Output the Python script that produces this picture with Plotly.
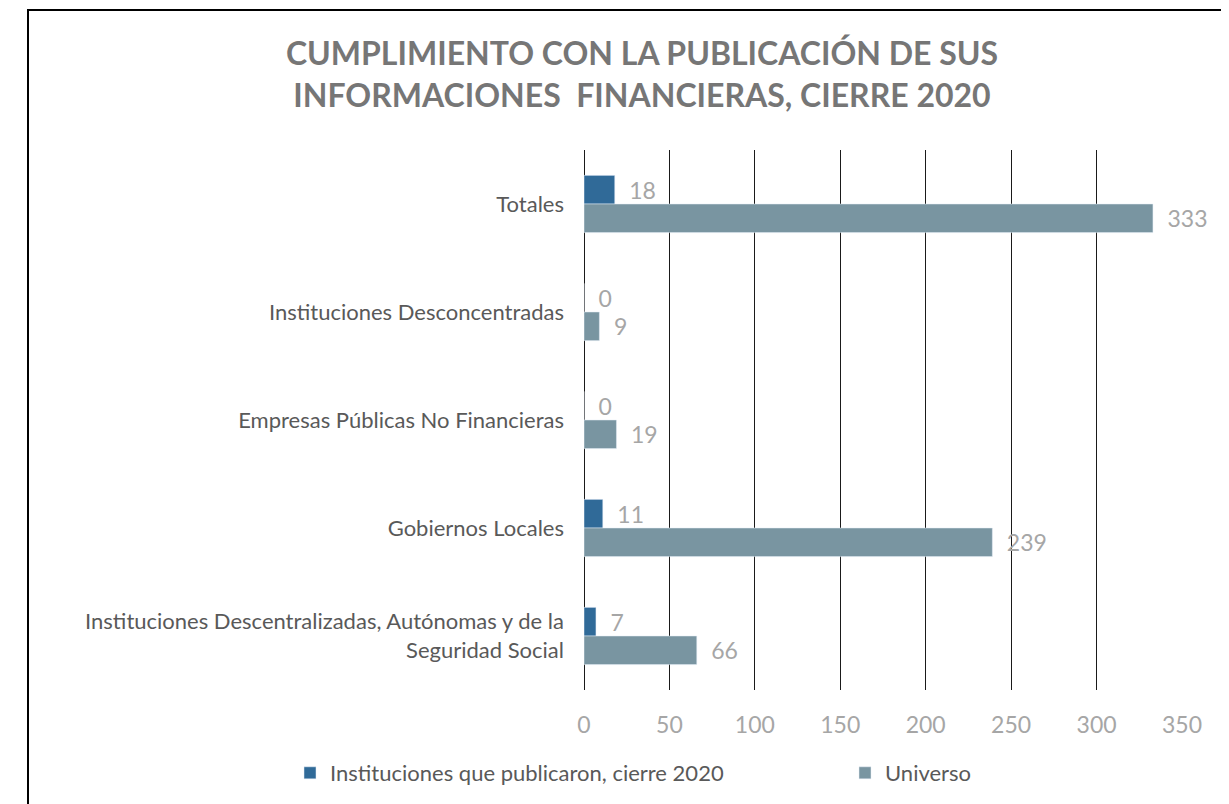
import plotly.graph_objects as go

categories = [
    "Totales",
    "Instituciones Desconcentradas",
    "Empresas Públicas No Financieras",
    "Gobiernos Locales",
    "Instituciones Descentralizadas, Autónomas y de la<br>Seguridad Social",
]
publicaron = [18, 0, 0, 11, 7]
universo = [333, 9, 19, 239, 66]
series_names = ["Instituciones que publicaron, cierre 2020", "Universo"]
x_ticks = [0, 50, 100, 150, 200, 250, 300, 350]

OFF = 8  # page body margin
W, H = 1229, 804
L, T = 584 - OFF, 150 - OFF
R = W - (1182 - OFF)
B = H - (690 - OFF)
pw, ph = W - L - R, H - T - B

FONT = "Lato"
fig = go.Figure()
fig.add_trace(go.Bar(
    y=categories, x=publicaron, orientation="h", name=series_names[0],
    marker_color="#306a98", text=publicaron, texttemplate="\u2002%{x}",
    textposition="outside", cliponaxis=False,
    textfont=dict(family=FONT, size=23, color="#a6a6a6"),
))
fig.add_trace(go.Bar(
    y=categories, x=universo, orientation="h", name=series_names[1],
    marker_color="#7995a1", text=universo, texttemplate="\u2002%{x}",
    textposition="outside", cliponaxis=False, legend="legend2",
    textfont=dict(family=FONT, size=23, color="#a6a6a6"),
))

def px_x(p):
    return (p - OFF - L) / pw

def px_y(p):
    return (H - B - (p - OFF)) / ph

fig.add_shape(type="rect", xref="paper", yref="paper",
              x0=px_x(28), x1=px_x(1222), y0=px_y(840), y1=px_y(10),
              line=dict(color="black", width=2), layer="below")

legend_font = dict(family=FONT, size=22, color="#595959")
fig.update_layout(
    width=W, height=H, margin=dict(l=L, r=R, t=T, b=B),
    paper_bgcolor="white", plot_bgcolor="white",
    barmode="group", bargap=0.47, bargroupgap=0,
    font=dict(family=FONT),
    title=dict(
        text="CUMPLIMIENTO CON LA PUBLICACIÓN DE SUS<br>INFORMACIONES  FINANCIERAS, CIERRE 2020",
        x=(642 - OFF) / W, xanchor="center", y=1 - (65 - OFF) / H, yanchor="middle",
        xref="container", yref="container",
        font=dict(family=FONT, size=32, color="#767676", weight="bold"),
    ),
    xaxis=dict(range=[0, 350], tickvals=x_ticks, showgrid=True,
               gridcolor="#1a1a1a", gridwidth=1, zeroline=True,
               zerolinecolor="#1a1a1a", zerolinewidth=1,
               ticks="", ticklabelstandoff=19,
               tickfont=dict(family=FONT, size=23, color="#a6a6a6")),
    yaxis=dict(autorange="reversed", showgrid=False, ticks="",
               ticklabelstandoff=19,
               tickfont=dict(family=FONT, size=22, color="#595959")),
    legend=dict(orientation="h", x=px_x(290), y=px_y(773), xanchor="left",
                yanchor="middle", font=legend_font),
    legend2=dict(orientation="h", x=px_x(845), y=px_y(773), xanchor="left",
                 yanchor="middle", font=legend_font),
    showlegend=True,
)
fig.write_html("out.html")
